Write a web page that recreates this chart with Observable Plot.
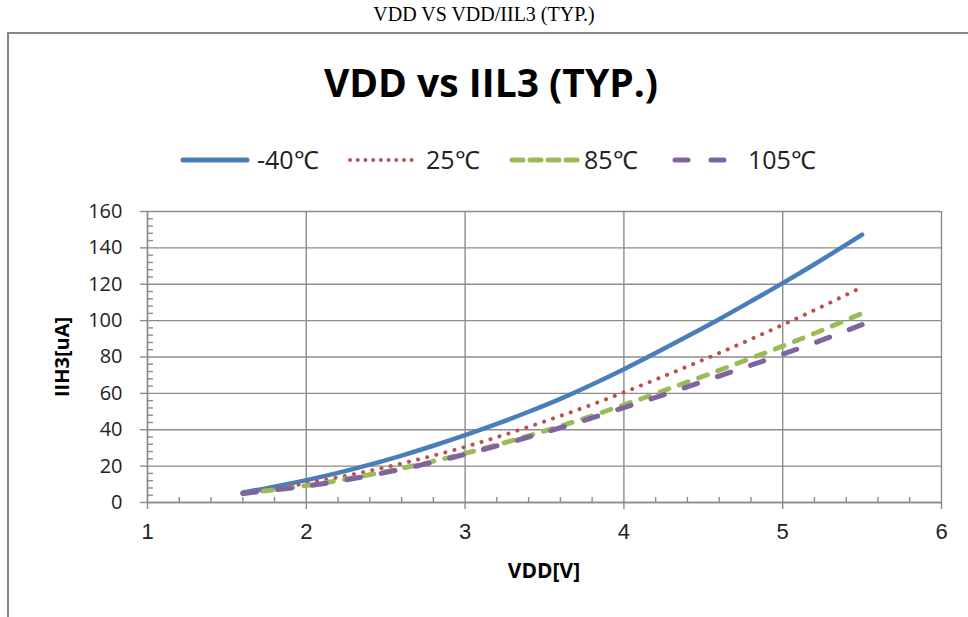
<!DOCTYPE html>
<html>
<head>
<meta charset="utf-8">
<script src="https://cdn.jsdelivr.net/npm/d3@7"></script>
<script src="https://cdn.jsdelivr.net/npm/@observablehq/plot@0.6"></script>
<style>
  html, body { margin: 0; padding: 0; background: #fff; }
  body { width: 968px; height: 617px; position: relative; overflow: hidden; }
  #pagetitle { position: absolute; left: 0; top: 3px; width: 968px; text-align: center;
    font-family: "Liberation Serif", "Times New Roman", serif; font-size: 20px; line-height: 22px; color: #000; }
  #box { position: absolute; left: 7px; top: 32px; width: 1000px; height: 700px;
    border-left: 2px solid #888; border-top: 2px solid #888; }
  #charttitle { position: absolute; left: 0; width: 982px; top: 58px; text-align: center;
    font-family: "Open Sans", sans-serif; font-weight: 700; font-size: 39px; line-height: 48px; color: #000; }
  #plot { position: absolute; left: 0; top: 0; }
  #legend { position: absolute; left: 0; top: 130px; }
  .axtitle { position: absolute; font-family: "Open Sans", sans-serif; font-weight: 700; color: #000; white-space: nowrap; }
  #xtitle { left: 444px; width: 200px; text-align: center; top: 556px; font-size: 21px; line-height: 28px; }
  #ytitle { left: 62px; top: 357px; font-size: 20px; line-height: 26px; transform: translate(-50%, -50%) rotate(-90deg); }
</style>
</head>
<body>
<div id="pagetitle">VDD VS VDD/IIL3 (TYP.)</div>
<div id="box"></div>
<div id="charttitle">VDD vs IIL3 (TYP.)</div>
<div id="plotwrap"></div>
<svg id="legend" width="968" height="50"></svg>
<div class="axtitle" id="xtitle">VDD[V]</div>
<div class="axtitle" id="ytitle">IIH3[uA]</div>
<script>
// ---- data ----
const vdd = [1.6, 1.8, 2.0, 2.2, 2.4, 2.6, 2.8, 3.0, 3.2, 3.4, 3.6, 3.8, 4.0, 4.2, 4.4, 4.6, 4.8, 5.0, 5.2, 5.4, 5.5];
const iih3M40 = [5.5, 8.7, 12.3, 16.3, 20.8, 25.8, 31.2, 37.0, 43.2, 49.9, 57.0, 64.9, 73.3, 82.2, 91.4, 100.8, 110.6, 120.6, 131.0, 141.8, 147.3];
const iih3T25 = [5.0, 7.6, 10.6, 13.8, 17.4, 21.4, 25.8, 30.6, 35.9, 41.6, 47.6, 53.9, 60.6, 67.6, 74.8, 82.2, 89.8, 97.7, 105.8, 114.2, 118.5];
const iih3T85 = [5.0, 7.0, 9.3, 12.1, 15.3, 18.8, 22.7, 27.0, 31.7, 36.7, 42.0, 47.7, 53.7, 59.9, 66.2, 72.7, 79.3, 86.0, 93.0, 100.3, 104.0];
const iih3T105 = [5.0, 6.9, 9.0, 11.7, 14.8, 18.3, 22.2, 26.5, 31.1, 36.0, 41.1, 46.5, 52.2, 57.8, 63.6, 69.5, 75.5, 81.5, 87.8, 94.4, 97.8];
const seriesNames = ["-40\u2103", "25\u2103", "85\u2103", "105\u2103"];
const seriesValues = [iih3M40, iih3T25, iih3T85, iih3T105];
const xTicks = [1, 2, 3, 4, 5, 6];
const yTicks = [0, 20, 40, 60, 80, 100, 120, 140, 160];

// ---- styles ----
const colors = ["#4a7ebb", "#c0504d", "#9bbb59", "#8064a2"];
const widths = [4.5, 4, 4.8, 5];
const dashes = [null, "0.1 9.3", "9.5 11", "14 21"];
const gridColor = "#8c8c8c";

const xMinor = d3.range(1, 6.0001, 0.2).map(v => +v.toFixed(1)).filter(v => !xTicks.includes(v));
const yMinor = d3.range(0, 160.0001, 4).filter(v => !yTicks.includes(v));

const lineMarks = seriesValues.map((vals, i) => Plot.line(vdd, {
  x: d => d,
  y: vals,
  stroke: colors[i],
  strokeWidth: widths[i],
  strokeDasharray: dashes[i],
  strokeLinecap: "round",
  strokeLinejoin: "round",
  curve: "monotone-x"
}));

const chart = Plot.plot({
  width: 968,
  height: 617,
  marginLeft: 147,
  marginRight: 27,
  marginTop: 211,
  marginBottom: 115,
  style: { background: "transparent", fontFamily: "'Open Sans', sans-serif", color: "#222", overflow: "visible" },
  x: { domain: [1, 6] },
  y: { domain: [0, 160] },
  marks: [
    Plot.gridX(xTicks, { stroke: gridColor, strokeOpacity: 1, strokeWidth: 1.4 }),
    Plot.gridY(yTicks, { stroke: gridColor, strokeOpacity: 1, strokeWidth: 1.4 }),
    Plot.axisY({ ticks: yTicks, tickSize: 7, tickPadding: 18, fontSize: 20, stroke: gridColor, strokeWidth: 1.4, label: null, fill: "#222" }),
    Plot.axisY({ ticks: yMinor, tickSize: 6, dx: 6, text: null, stroke: gridColor, strokeWidth: 1.4, label: null }),
    Plot.axisX({ ticks: xTicks, tickFormat: d3.format("d"), tickSize: 7, tickPadding: 14, fontSize: 22, stroke: gridColor, strokeWidth: 1.4, label: null, fill: "#222",
      fontFamily: "'Liberation Sans Narrow', 'Liberation Sans', Arial, sans-serif" }),
    Plot.axisX({ ticks: xMinor, tickSize: 5, dy: -5, text: null, stroke: gridColor, strokeWidth: 1.4, label: null }),
    Plot.ruleX([1], { stroke: gridColor, strokeWidth: 1.4 }),
    Plot.ruleY([0], { stroke: gridColor, strokeWidth: 1.4 }),
    ...lineMarks
  ]
});
chart.id = "plot";
document.getElementById("plotwrap").appendChild(chart);

// ---- legend ----
const legendItems = [
  { sx1: 183, sx2: 247, tx: 257 },
  { sx1: 350, sx2: 414, tx: 426 },
  { sx1: 512, sx2: 582, tx: 584 },
  { sx1: 675, sx2: 726, tx: 748 }
];
const legendDash = [null, "0.1 7.6", "11 7", "13 23"];
const lg = d3.select("#legend");
legendItems.forEach((it, i) => {
  lg.append("line")
    .attr("x1", it.sx1).attr("x2", it.sx2).attr("y1", 30).attr("y2", 30)
    .attr("stroke", colors[i]).attr("stroke-width", i === 1 ? 3.8 : 5)
    .attr("stroke-linecap", "round")
    .attr("stroke-dasharray", legendDash[i]);
  lg.append("text")
    .attr("x", it.tx).attr("y", 39)
    .attr("font-family", "'Open Sans', sans-serif")
    .attr("font-size", 25)
    .attr("fill", "#222")
    .text(seriesNames[i]);
});
</script>
</body>
</html>
